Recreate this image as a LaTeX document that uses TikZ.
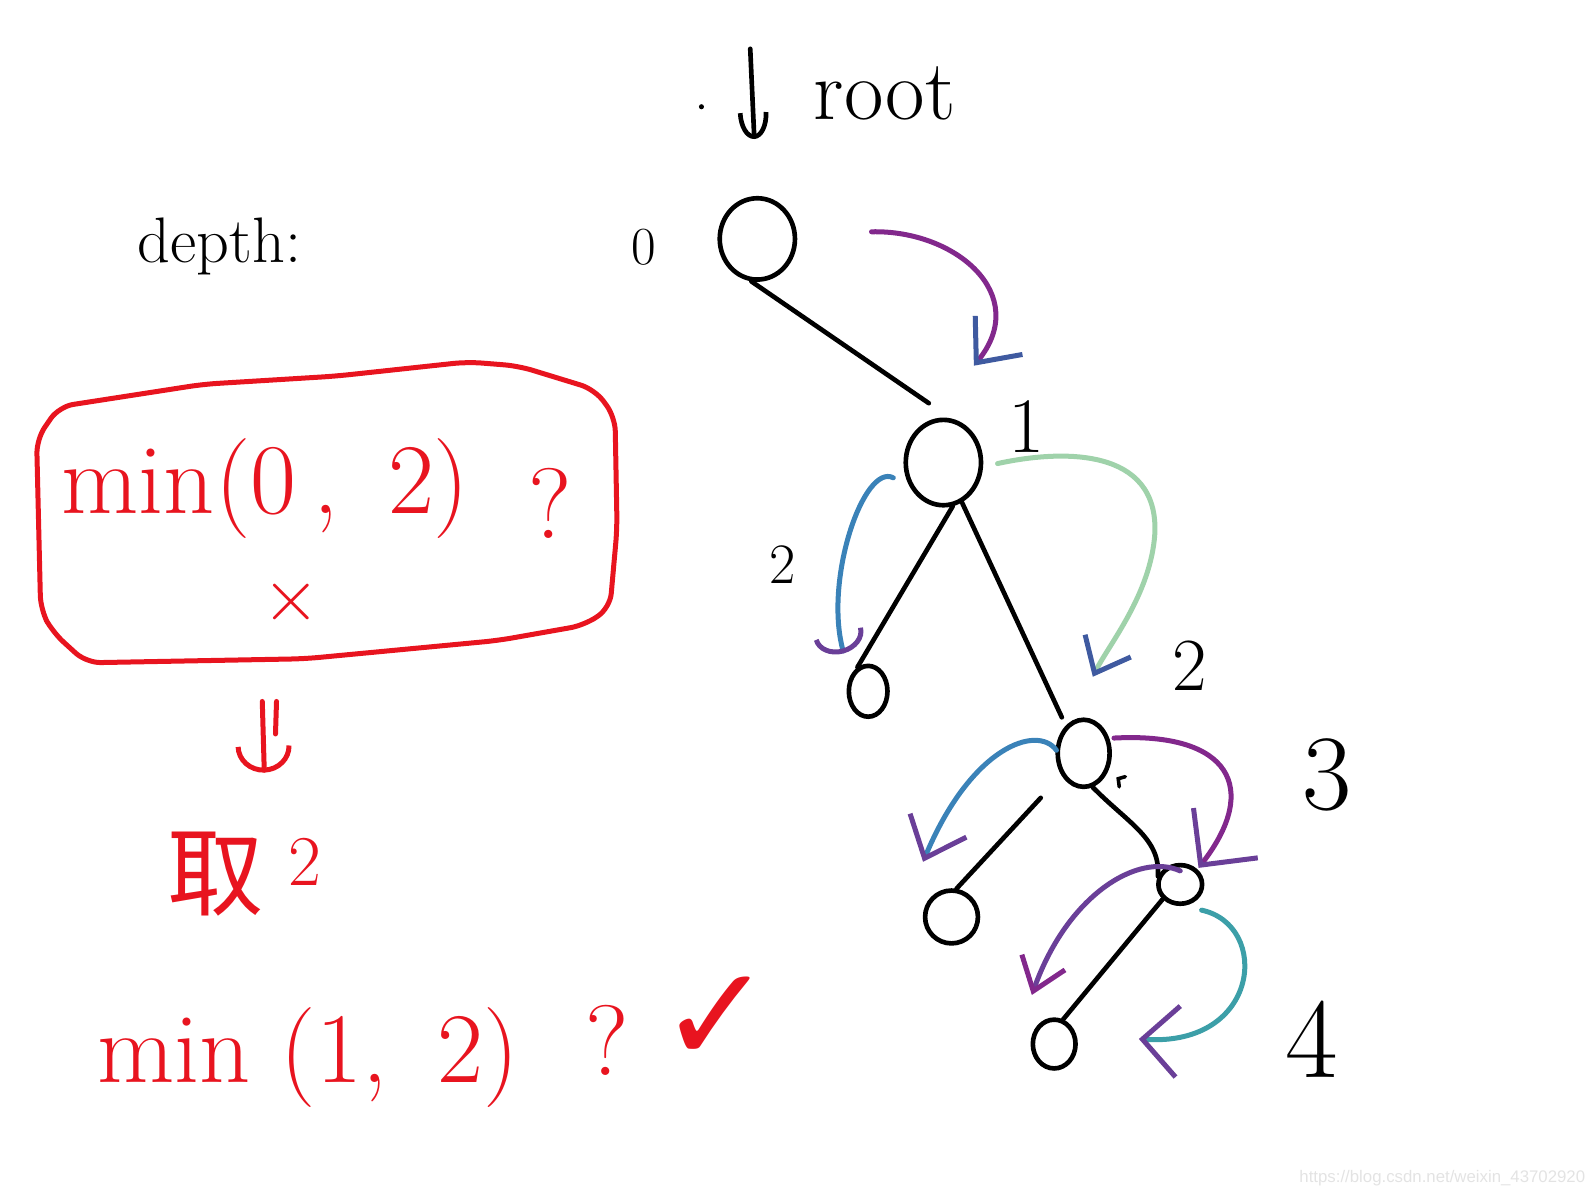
\documentclass[tikz,border=0pt]{standalone}
\usepackage{fontspec}
\newfontfamily\cjkfont{Noto Sans CJK SC}
\newfontfamily\symfont{DejaVu Sans}
\newfontfamily\markfont{Liberation Sans}
\usetikzlibrary{arrows.meta,shapes.geometric,calc}

\definecolor{inkpurple}{HTML}{82288C}
\definecolor{inkviolet}{HTML}{6A3F98}
\definecolor{inkblue}{HTML}{3A82B8}
\definecolor{inknavy}{HTML}{3F5AA0}
\definecolor{inkgreen}{HTML}{9FD2AA}
\definecolor{inkteal}{HTML}{3C9FA8}
\definecolor{inkred}{HTML}{E8141F}

\begin{document}
\begin{tikzpicture}[
  x=0.1mm, y=0.1mm,
  vtx/.style={draw, ellipse, line width=1.3pt, inner sep=0pt},
  tedge/.style={line width=1.3pt, line cap=round},
  walk/.style={line width=1.4pt, line cap=round},
  lbl/.style={inner sep=0pt},
  redtxt/.style={inner sep=0pt, text=inkred},
  redln/.style={draw=inkred, line width=1.4pt, line cap=round, line join=round}
]
\useasboundingbox (0,0) rectangle (1568,-1176);

% tree nodes
\node[vtx, minimum width=7.4mm, minimum height=8mm] (root) at (745,-235) {};
\node[vtx, minimum width=7.4mm, minimum height=8.4mm] (n1) at (928,-455) {};
\node[vtx, minimum width=3.8mm, minimum height=5mm] (c1L) at (854,-680) {};
\node[vtx, minimum width=5.1mm, minimum height=6.6mm] (n2) at (1066,-741) {};
\node[vtx, minimum width=5.2mm, minimum height=5.2mm] (c2L) at (936,-902) {};
\node[vtx, minimum width=4.3mm, minimum height=3.8mm] (n3) at (1161,-870) {};
\node[vtx, minimum width=4.2mm, minimum height=4.8mm] (c3L) at (1037,-1027) {};

% tree edges
\draw[tedge] (root.262) -- ($(n1.105)+(-3,16)$);
\draw[tedge] (n1.282) -- (c1L.114);
\draw[tedge] (n1.295) -- ($(n2.125)+(-3,9)$);
\draw[tedge, shorten <=3mm] (n2.225) -- (c2L.80);
\draw[tedge] (n2.285) .. controls (1110,-810) and (1142,-825) .. (n3.160);
\draw[tedge] (n3.220) -- (c3L.70);

% root pointer
\coordinate (rtop) at (738,-48);
\draw[tedge, -{Arc Barb[length=2.6mm,width=3mm]}] (rtop) -- ($(root.north)+(-3,56)$);
\fill (690,-105) circle (2.5);
\node[lbl, anchor=base west, font=\fontsize{24}{24}\selectfont] (rootlbl) at (800,-118) {root};

% depth labels
\node[lbl, anchor=base west, font=\fontsize{18}{18}\selectfont] (depthlbl) at (135,-258) {depth:};
\node[lbl, font=\fontsize{15}{15}\selectfont] (d0) at (633,-243) {0};
\node[lbl, font=\fontsize{22}{22}\selectfont] (d1) at (1010,-420) {1};
\node[lbl, font=\fontsize{16}{16}\selectfont] (d2a) at (770,-555) {2};
\node[lbl, font=\fontsize{21}{21}\selectfont] (d2b) at (1170,-655) {2};
\node[lbl, font=\fontsize{30}{30}\selectfont] (d3) at (1305,-762) {3};
\node[lbl, font=\fontsize{32}{32}\selectfont] (d4) at (1290,-1022) {4};
\draw[tedge, line width=1pt] (1101,-774) -- (1100,-766) -- (1107,-764);

% traversal arrows
\draw[walk, inkpurple, -{Straight Barb[length=3.5mm,width=6mm,color=inknavy]}]
  ($(root.east)+(73,7)$) .. controls (940,-226) and (1015,-290) .. ($(n1.north)+(30,51)$);
\draw[walk, inkblue, -{Arc Barb[length=2mm,width=5mm,color=inkviolet]}]
  ($(n1.west)+(-10,-15)$) .. controls (850,-455) and (810,-570) .. ($(c1L.north)+(-24,10)$);
\draw[walk, inkgreen, -{Straight Barb[length=3mm,width=5mm,color=inknavy]}]
  ($(n1.east)+(14,-1)$) .. controls (1045,-442) and (1140,-440) .. (1136,-525)
  .. controls (1132,-585) and (1090,-635) .. ($(n2.north)+(9,40)$);
\draw[walk, inkblue, -{Straight Barb[length=3.5mm,width=6mm,color=inkviolet]}]
  ($(n2.west)+(1,3)$) .. controls (1020,-712) and (955,-735) .. ($(c2L.north)+(-28,26)$);
\draw[walk, inkpurple, -{Straight Barb[length=4mm,width=8mm,color=inkviolet]}]
  ($(n2.east)+(2,15)$) .. controls (1210,-720) and (1240,-775) .. ($(n3.north)+(18,-5)$);
\draw[walk, inkviolet, -{Straight Barb[length=3mm,width=4.5mm,color=inkpurple]}]
  ($(n3.north)+(0,-8)$) .. controls (1120,-838) and (1050,-880) .. ($(c3L.north)+(-22,22)$);
\draw[walk, inkteal, -{Straight Barb[length=3.5mm,width=7mm,color=inkviolet]}]
  ($(n3.south)+(21,-4)$) .. controls (1250,-910) and (1240,-1030) .. ($(c3L.east)+(60,5)$);

% red note
\draw[redln, rounded corners=1.4mm] (40,-600) -- (36,-432) -- (58,-400) -- (200,-378)
  -- (330,-370) -- (460,-356) -- (510,-360) -- (585,-383) -- (605,-410) -- (607,-520)
  -- (600,-598) -- (575,-615) -- (490,-630) -- (300,-648) -- (85,-652) -- (52,-622) -- cycle;
\node[redtxt, anchor=base west, font=\fontsize{28}{28}\selectfont] (minA) at (60,-505) {min(0\,,\enspace 2)};
\node[redtxt, anchor=base, font=\fontsize{28}{28}\selectfont] (qA) at (541,-530) {?};
\node[redtxt, font=\fontsize{20}{20}\selectfont] (nope) at (287,-592) {$\times$};

\coordinate (dnA) at (258,-690);
\coordinate (dnB) at (272,-690);
\coordinate (dnEnd) at (260,-760);
\draw[redln, -{Arc Barb[length=2.6mm,width=5.5mm]}] (dnA) -- (dnEnd);
\draw[redln] (dnB) -- (271,-722);

\node[redtxt, font=\cjkfont\fontsize{27}{27}\selectfont] (take) at (212,-860) {取};
\node[redtxt, font=\fontsize{20}{20}\selectfont] (takeval) at (300,-848) {2};

\node[redtxt, anchor=base west, font=\fontsize{28}{28}\selectfont] (minB) at (95,-1065) {min\ (1,\enspace 2)};
\node[redtxt, anchor=base, font=\fontsize{28}{28}\selectfont] (qB) at (597,-1058) {?};
\node[redtxt, font=\symfont\bfseries\fontsize{38}{38}\selectfont] (ok) at (705,-1003) {✓};

% watermark
\node[lbl, anchor=base east, text=gray!22, font=\markfont\fontsize{4.7}{5}\selectfont] (wm) at (1560,-1163) {https://blog.csdn.net/weixin\_43702920};
\end{tikzpicture}
\end{document}
